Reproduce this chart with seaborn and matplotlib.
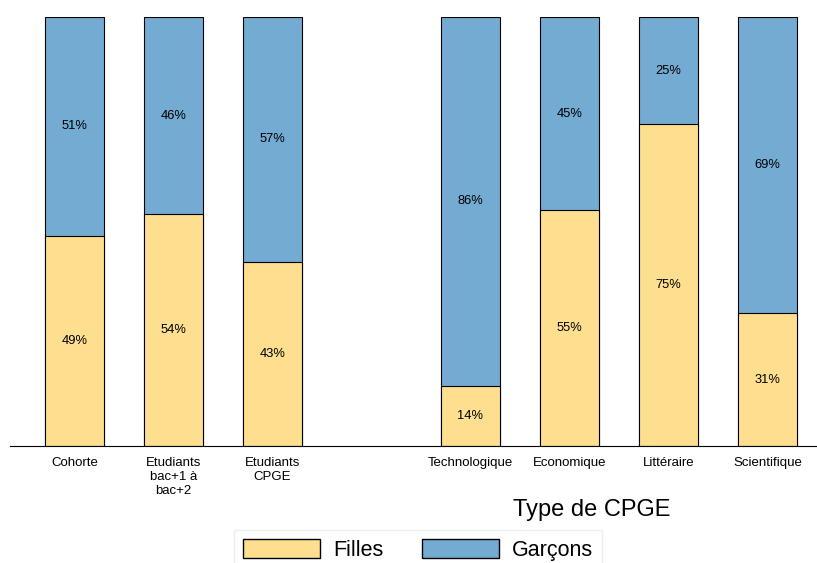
import numpy as np
import pandas as pd
import matplotlib.pyplot as plt
import seaborn as sns
from matplotlib.patches import Patch

# parts filles / garcons par population, avec un trou entre les deux groupes
categories = ["Cohorte", "Etudiants\nbac+1 à\nbac+2", "Etudiants\nCPGE", " ",
              "Technologique", "Economique", "Littéraire", "Scientifique"]
filles = [49, 54, 43, np.nan, 14, 55, 75, 31]
garcons = [51, 46, 57, np.nan, 86, 45, 25, 69]

yellow = "#FDDF8F"
blue = "#74ABD3"

df = pd.DataFrame({"categorie": categories, "filles": filles, "garcons": garcons})
df["total"] = df["filles"] + df["garcons"]

sns.set_style("white")
plt.rcParams["font.family"] = ["Liberation Sans", "DejaVu Sans"]
plt.rcParams["text.color"] = "black"
plt.rcParams["xtick.color"] = "black"

fig = plt.figure(figsize=(8.17, 5.63), dpi=100)
ax = fig.add_axes([10 / 817, 1 - 446 / 563, 807 / 817, (446 - 17) / 563])

sns.barplot(data=df, x="categorie", y="total", color=blue, width=0.6,
            edgecolor="black", linewidth=0.8, saturation=1, ax=ax)
sns.barplot(data=df, x="categorie", y="filles", color=yellow, width=0.6,
            edgecolor="black", linewidth=0.8, saturation=1, ax=ax)

for i, row in df.iterrows():
    if np.isnan(row["filles"]):
        continue
    ax.text(i, row["filles"] / 2, f"{row['filles']:.0f}%", ha="center", va="center", fontsize=9.3)
    ax.text(i, row["filles"] + row["garcons"] / 2, f"{row['garcons']:.0f}%",
            ha="center", va="center", fontsize=9.3)

ax.set_ylim(0, 100)
ax.set_xlim(-0.65, 7.5)
ax.set_yticks([])
ax.set_xlabel("")
ax.set_ylabel("")
ax.tick_params(axis="x", length=0, pad=8, labelsize=9.5)
for s in ["top", "left", "right"]:
    ax.spines[s].set_visible(False)
ax.spines["bottom"].set_color("black")
ax.spines["bottom"].set_linewidth(0.8)

fig.text(592 / 817, 1 - 510 / 563, "Type de CPGE", ha="center", va="center", fontsize=17)

handles = [Patch(facecolor=yellow, edgecolor="black", label="Filles"),
           Patch(facecolor=blue, edgecolor="black", label="Garçons")]
leg = fig.legend(handles=handles, loc="upper center", bbox_to_anchor=(418 / 817, 1 - 530 / 563),
                 borderaxespad=0, ncol=2, fontsize=15.5, handlelength=3.6, handleheight=1.0,
                 handletextpad=0.6, frameon=True, fancybox=False, columnspacing=1.8)
leg.get_frame().set_edgecolor("#e4ecec")

fig.savefig("out.png", dpi=100)
